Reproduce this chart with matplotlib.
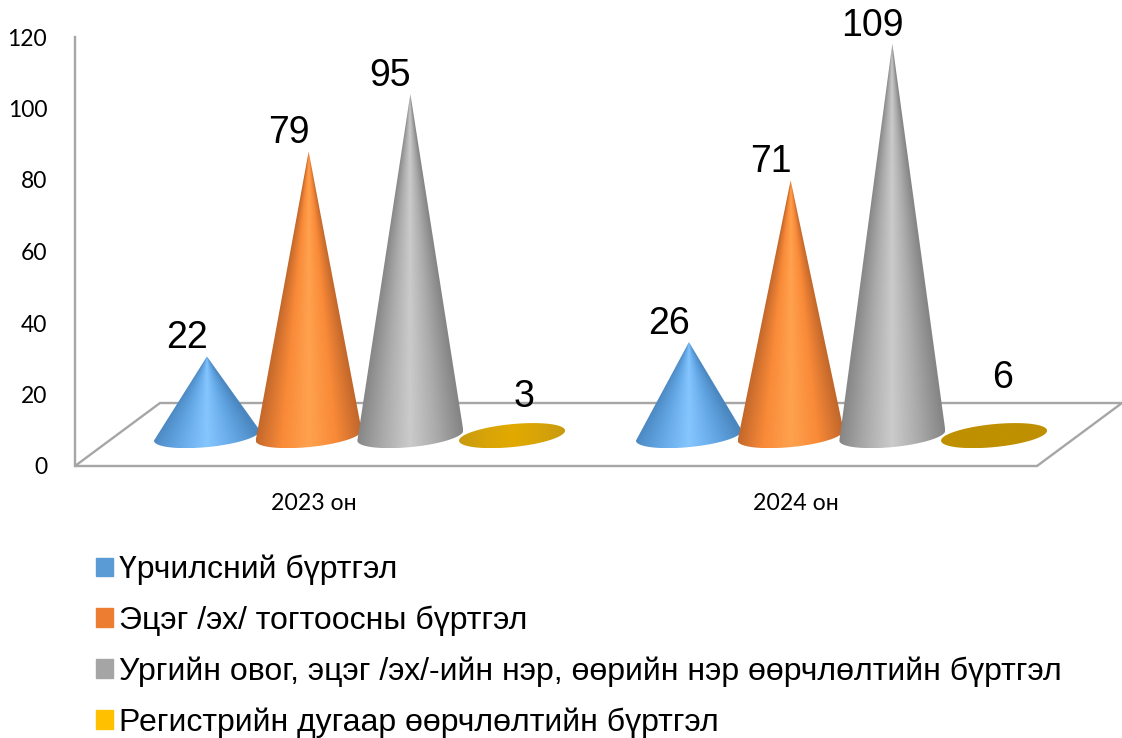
import numpy as np
import matplotlib
matplotlib.use('Agg')
import matplotlib.pyplot as plt
from matplotlib.colors import LinearSegmentedColormap
from matplotlib.patches import Patch, Polygon

years = ['2023 он', '2024 он']
series_names = [
    'Үрчилсний бүртгэл',
    'Эцэг /эх/ тогтоосны бүртгэл',
    'Ургийн овог, эцэг /эх/-ийн нэр, өөрийн нэр өөрчлөлтийн бүртгэл',
    'Регистрийн дугаар өөрчлөлтийн бүртгэл',
]
urchlal = [22, 26]
etseg = [79, 71]
urgiin = [95, 109]
registr = [3, 6]
y_ticks = [0, 20, 40, 60, 80, 100, 120]

legend_colors = ['#5b9bd5', '#ed7d31', '#a5a5a5', '#ffc000']
# edge, mid, centre colours of the cone shading
shades = [
    ['#4a86bf', '#62a6e4', '#85c6ff'],
    ['#c2672b', '#f98a38', '#ffa24f'],
    ['#858585', '#ababab', '#cbcbcb'],
    ['#c89a10', '#d8a408', '#e2aa00'],
]
flat_2024 = '#bf9000'
grey = '#a6a6a6'

W, H = 1122, 738
fig = plt.figure(figsize=(W / 100, H / 100), dpi=100)
ax = fig.add_axes([75 / W, (H - 466) / H, (W - 75) / W, 429 / H])
ax.set_xlim((75 - 314) / 482, (W - 314) / 482)
ax.set_ylim(0, 120)

px_x = 1 / 482      # x units per pixel
px_y = 120 / 429    # y units per pixel

# floor of the 3d chart
depth_x = 85 * px_x
depth_y = 63 * px_y
floor = Polygon([(-239 * px_x, 0), (-239 * px_x + depth_x, depth_y),
                 (808 * px_x, depth_y), (808 * px_x - depth_x, 0)],
                closed=True, fill=False, edgecolor=grey, lw=1.7, zorder=1,
                clip_on=False)
ax.add_patch(floor)

base_y = 8.5
height_scale = 1.006  # cones stand slightly taller than the axis scale
half_w = 53 * px_x
ell_b = 11.5 * px_y
ell_k = 5 * px_y
shift_x = 45.5 * px_x
step = 101.7 * px_x


def draw_cone(cx, value, cols):
    tip = base_y + value * height_scale
    t = np.linspace(np.pi, 2 * np.pi, 60)
    ex = cx + half_w * np.cos(t)
    ey = base_y + ell_b * np.sin(t) + ell_k * np.cos(t)
    flat = value < 10
    if flat:
        t = np.linspace(0, 2 * np.pi, 120)
        ex = cx + half_w * np.cos(t)
        ey = base_y + ell_b * np.sin(t) + ell_k * np.cos(t)
        verts = np.column_stack([ex, ey])
    else:
        verts = np.vstack([np.column_stack([ex, ey]), [[cx, tip]]])

    y0, y1 = verts[:, 1].min(), verts[:, 1].max()
    xs = np.linspace(cx - half_w, cx + half_w, 160)
    ys = np.linspace(y0, y1, 400)
    gx, gy = np.meshgrid(xs, ys)
    if flat:
        u = (gx - cx) / half_w
    else:
        # shade follows the cone surface, narrowing up to the tip
        frac = np.clip(1 - (gy - base_y) / (tip - base_y), 0.02, 1.2)
        u = np.clip((gx - cx) / (half_w * frac), -1, 1)
    cmap = LinearSegmentedColormap.from_list('cone', [cols[0], cols[1], cols[2], cols[1], cols[0]])
    img = ax.imshow(cmap((u + 1) / 2), extent=[xs[0], xs[-1], y0, y1], origin='lower',
                    aspect='auto', zorder=3, interpolation='bilinear')
    outline = Polygon(verts, closed=True, transform=ax.transData, fc='none', ec='none')
    ax.add_patch(outline)
    img.set_clip_path(outline)


all_series = [urchlal, etseg, urgiin, registr]
flat_dy = [28, 36]
flat_dx = [12, 9]
for s, values in enumerate(all_series):
    for g, v in enumerate(values):
        cx = g + shift_x + (s - 1.5) * step
        cols = shades[s]
        if s == 3 and g == 1:
            cols = [flat_2024] * 3
        draw_cone(cx, v, cols)
        if v < 10:
            dx, dy = flat_dx[g], flat_dy[g]
        else:
            dx, dy = -20, 18
        ax.annotate(str(v), (cx, base_y + v * height_scale), xytext=(dx * 0.72, dy * 0.72),
                    textcoords='offset points', ha='center', va='center',
                    fontsize=27, family='Liberation Sans', color='black',
                    zorder=5, annotation_clip=False)

ax.set_xlim((75 - 314) / 482, (W - 314) / 482)
ax.set_ylim(0, 120)

ax.set_xticks([0, 1])
ax.set_xticklabels(years, family=['Lato', 'Noto Sans'], fontsize=16.7)
ax.set_yticks(y_ticks)
ax.set_yticklabels([str(v) for v in y_ticks], family=['Lato', 'Noto Sans'], fontsize=16.5)
ax.tick_params(axis='x', length=0, pad=19.2)
ax.tick_params(axis='y', length=0, pad=20)

for side in ['top', 'right', 'bottom']:
    ax.spines[side].set_visible(False)
ax.spines['left'].set_color(grey)
ax.spines['left'].set_linewidth(1.7)
ax.patch.set_alpha(0)

handles = [Patch(color=c, label=n) for c, n in zip(legend_colors, series_names)]
fig.legend(handles=handles, loc='lower left', bbox_to_anchor=(96 / W, 0),
           frameon=False, ncol=1, handlelength=0.53, handleheight=0.53, handletextpad=0.19,
           labelspacing=0.64, borderpad=0, borderaxespad=0,
           prop={'family': 'Liberation Sans', 'size': 23})

fig.savefig('out.png', dpi=100)
